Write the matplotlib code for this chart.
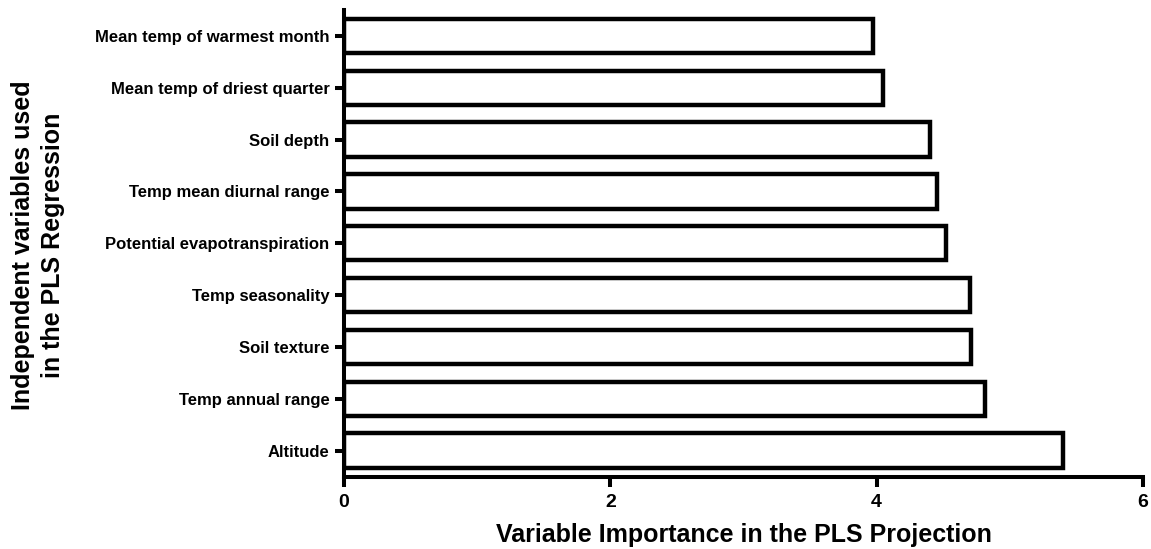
import matplotlib
matplotlib.use("Agg")
import matplotlib.pyplot as plt

categories = ["Altitude", "Temp annual range", "Soil texture", "Temp seasonality",
              "Potential evapotranspiration", "Temp mean diurnal range", "Soil depth",
              "Mean temp of driest quarter", "Mean temp of warmest month"]
values = [5.40, 4.81, 4.71, 4.70, 4.52, 4.455, 4.40, 4.05, 3.97]
xticks = [0, 2, 4, 6]

plt.rcParams['font.family'] = ['Liberation Sans', 'DejaVu Sans']
plt.rcParams['font.weight'] = 'bold'

fig = plt.figure(figsize=(11.51, 5.49), dpi=100)
L, R, B, T = 344 / 1151, 1143 / 1151, 1 - 476.5 / 549, 1 - 10 / 549
ax = fig.add_axes([L, B, R - L, T - B])

ypos = list(range(len(categories)))
ax.barh(ypos, values, height=0.665, color='white', edgecolor='black', linewidth=3.2)

ax.set_xlim(0, 6)
ax.set_ylim(-0.5, 8.5)
ax.set_xticks(xticks)
ax.set_xticklabels([str(t) for t in xticks], fontsize=14, fontweight='bold')
ax.set_yticks(ypos)
ax.set_yticklabels(categories, fontsize=12, fontweight='bold')

for s in ['top', 'right']:
    ax.spines[s].set_visible(False)
for s in ['left', 'bottom']:
    ax.spines[s].set_linewidth(2.9)
ax.tick_params(axis='y', length=6.5, width=2.9, pad=4)
ax.tick_params(axis='x', length=7.5, width=2.9, pad=5)

ax.set_xlabel("Variable Importance in the PLS Projection", fontsize=18, fontweight='bold')
ax.xaxis.set_label_coords(0.5, (476.5 - 535) / 466.5, transform=ax.transAxes)
ax.xaxis.label.set_va('center')
ax.set_ylabel("Independent variables used\nin the PLS Regression", fontsize=18, fontweight='bold',
              linespacing=1.3)
ax.yaxis.set_label_coords((38 - 344) / 799, 0.496, transform=ax.transAxes)
ax.yaxis.label.set_va('center')

fig.savefig("out.png", dpi=100)
